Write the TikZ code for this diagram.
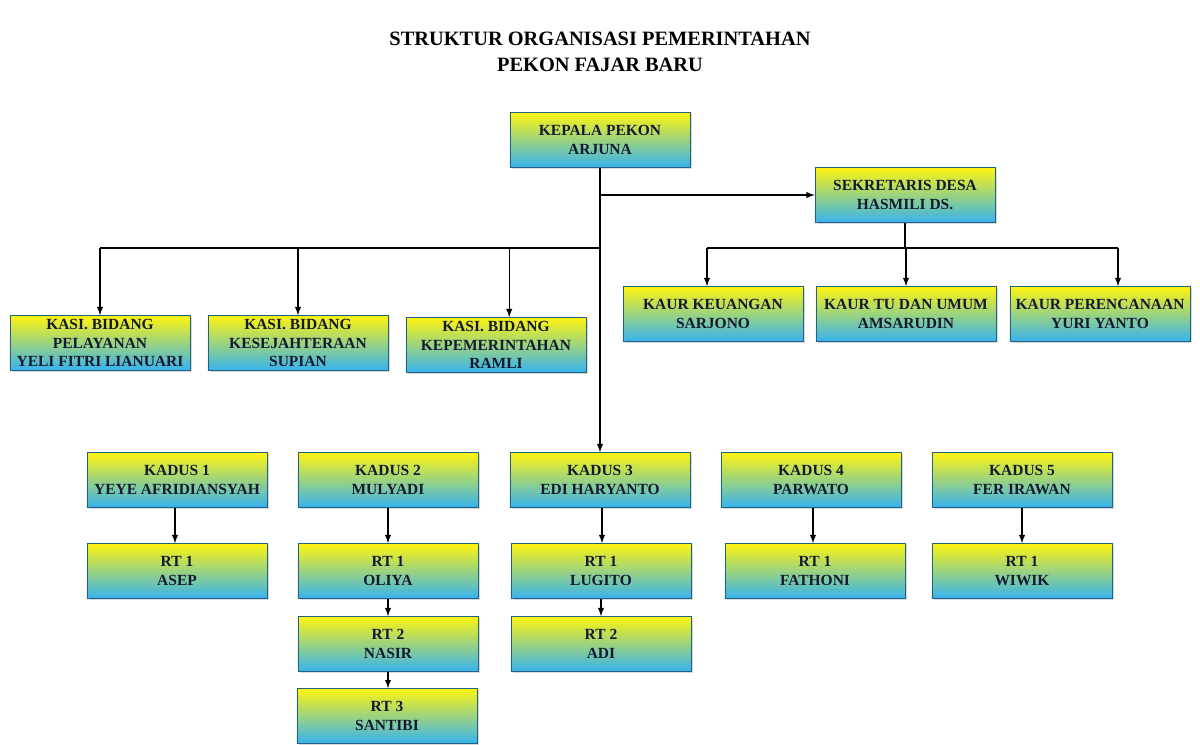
\documentclass[tikz,border=0pt]{standalone}
\usepackage{fontspec}
\setmainfont{Liberation Serif}
\newfontfamily\orgfont{Liberation Serif}
\usetikzlibrary{shadows}

\definecolor{unityellow}{HTML}{FFF410}
\definecolor{unitmid}{HTML}{F4F6E2}
\definecolor{unitblue}{HTML}{36B2F0}
\definecolor{unittext}{HTML}{141A33}

\tikzset{
  unit/.style={draw=unitblue!55!black, line width=0.5pt,
    top color=unityellow, middle color=unitmid, bottom color=unitblue,
    minimum width=4.5cm, minimum height=1.375cm, inner sep=0pt,
    align=center, text=unittext,
    font=\orgfont\bfseries\fontsize{11}{14}\selectfont,
    drop shadow={opacity=0.3, shadow xshift=1.2pt, shadow yshift=-1.2pt}},
  tight/.style={font=\orgfont\bfseries\fontsize{11}{13}\selectfont},
  link/.style={line width=1pt, black},
  >=latex
}

\begin{document}
\begin{tikzpicture}[x=0.025cm, y=-0.025cm]
\useasboundingbox (0,0) rectangle (1200,744);

% title
\node[align=center, text=black, font=\orgfont\bfseries\fontsize{14.5}{18.5}\selectfont] (title) at (600,52)
  {STRUKTUR ORGANISASI PEMERINTAHAN\\PEKON FAJAR BARU};

% kepala and sekretaris
\node[unit] (kepala) at (600,140) {KEPALA PEKON\\ARJUNA};
\node[unit] (sekdes) at (905,195) {SEKRETARIS DESA\\HASMILI DS.};

% kasi
\node[unit,tight] (kasiA) at (100,343) {KASI. BIDANG\\PELAYANAN\\YELI FITRI LIANUARI};
\node[unit,tight] (kasiB) at (298,343) {KASI. BIDANG\\KESEJAHTERAAN\\SUPIAN};
\node[unit,tight] (kasiC) at (496,345) {KASI. BIDANG\\KEPEMERINTAHAN\\RAMLI};

% kaur
\node[unit] (kaurA) at (713,314) {KAUR KEUANGAN\\SARJONO};
\node[unit] (kaurB) at (906,314) {KAUR TU DAN UMUM\\AMSARUDIN};
\node[unit] (kaurC) at (1100,314) {KAUR PERENCANAAN\\YURI YANTO};

% kadus
\node[unit] (kadusA) at (177,480) {KADUS 1\\YEYE AFRIDIANSYAH};
\node[unit] (kadusB) at (388,480) {KADUS 2\\MULYADI};
\node[unit] (kadusC) at (600,480) {KADUS 3\\EDI HARYANTO};
\node[unit] (kadusD) at (811,480) {KADUS 4\\PARWATO};
\node[unit] (kadusE) at (1022,480) {KADUS 5\\FER IRAWAN};

% rt
\node[unit] (rtA1) at (177,571) {RT 1\\ASEP};
\node[unit] (rtB1) at (388,571) {RT 1\\OLIYA};
\node[unit] (rtB2) at (388,644) {RT 2\\NASIR};
\node[unit] (rtB3) at (387,716) {RT 3\\SANTIBI};
\node[unit] (rtC1) at (601,571) {RT 1\\LUGITO};
\node[unit] (rtC2) at (601,644) {RT 2\\ADI};
\node[unit] (rtD1) at (815,571) {RT 1\\FATHONI};
\node[unit] (rtE1) at (1022,571) {RT 1\\WIWIK};

% lines
\coordinate (kasibus) at (600,248);
\coordinate (kaurbus) at (905,248);
\draw[link,->] (kepala.south) -- (kadusC.north);
\draw[link,->] (kepala.south |- sekdes.west) -- (sekdes.west);
\draw[link] (kasiA.north |- kasibus) -- (kasibus);
\draw[link,->] (kasiA.north |- kasibus) -- (kasiA.north);
\draw[link,->] (kasiB.north |- kasibus) -- (kasiB.north);
\draw[link,->] ([xshift=0.33cm]kasiC.north |- kasibus) -- ([xshift=0.33cm]kasiC.north);
\draw[link] (sekdes.south) -- (kaurbus);
\draw[link] ([xshift=-0.15cm]kaurA.north |- kaurbus) -- ([xshift=0.45cm]kaurC.north |- kaurbus);
\draw[link,->] ([xshift=-0.15cm]kaurA.north |- kaurbus) -- ([xshift=-0.15cm]kaurA.north);
\draw[link,->] (kaurB.north |- kaurbus) -- (kaurB.north);
\draw[link,->] ([xshift=0.45cm]kaurC.north |- kaurbus) -- ([xshift=0.45cm]kaurC.north);

\draw[link,->] ([xshift=-0.05cm]kadusA.south) -- ([xshift=-0.05cm]kadusA.south |- rtA1.north);
\draw[link,->] (kadusB.south) -- (kadusB.south |- rtB1.north);
\draw[link,->] (rtB1.south) -- (rtB1.south |- rtB2.north);
\draw[link,->] (rtB2.south) -- (rtB2.south |- rtB3.north);
\draw[link,->] ([xshift=0.05cm]kadusC.south) -- ([xshift=0.05cm]kadusC.south |- rtC1.north);
\draw[link,->] (rtC1.south) -- (rtC1.south |- rtC2.north);
\draw[link,->] ([xshift=0.05cm]kadusD.south) -- ([xshift=0.05cm]kadusD.south |- rtD1.north);
\draw[link,->] (kadusE.south) -- (kadusE.south |- rtE1.north);
\end{tikzpicture}
\end{document}
